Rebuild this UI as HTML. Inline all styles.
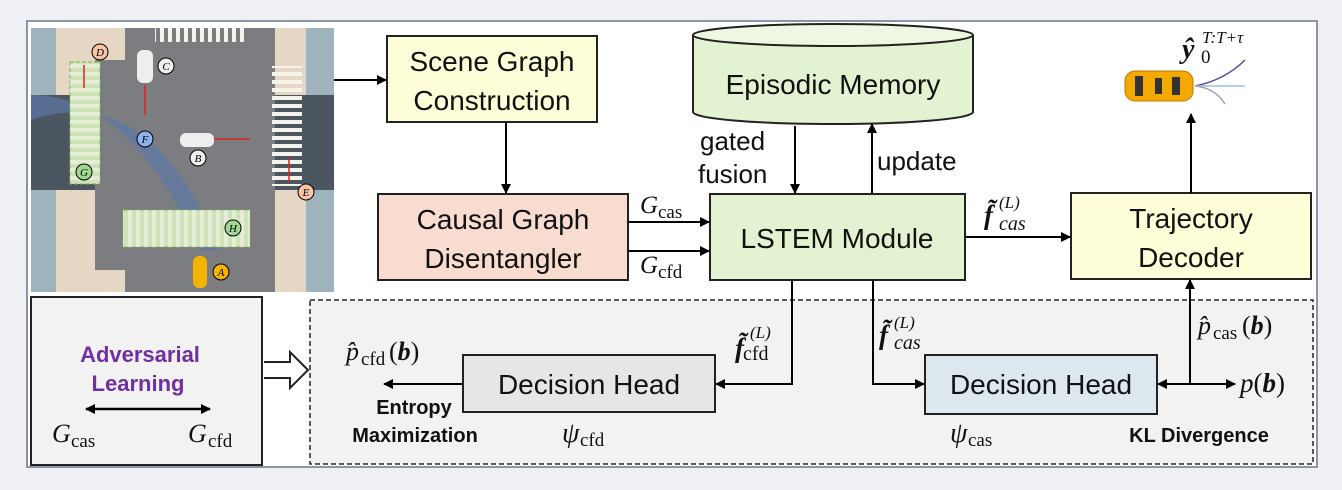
<!DOCTYPE html>
<html><head><meta charset="utf-8"><style>
body{margin:0;background:#eef0f3;}
svg{display:block;}
.t{font-family:"Liberation Sans",sans-serif;font-size:28px;fill:#111;text-anchor:middle;}
.m{font-family:"Liberation Serif",serif;fill:#111;}
</style></head><body>
<svg width="1342" height="490" viewBox="0 0 1342 490" xmlns="http://www.w3.org/2000/svg">
<defs>
<marker id="a" markerWidth="10" markerHeight="10" refX="9" refY="5" orient="auto" markerUnits="userSpaceOnUse"><path d="M0,0 L10,5 L0,10 z" fill="#000"/></marker>
<marker id="s" markerWidth="10" markerHeight="10" refX="1" refY="5" orient="auto" markerUnits="userSpaceOnUse"><path d="M10,0 L0,5 L10,10 z" fill="#000"/></marker>
<pattern id="hs" width="8" height="8" patternUnits="userSpaceOnUse"><rect width="8" height="4" fill="#f4f4ec"/></pattern>
<pattern id="vs" width="8" height="8" patternUnits="userSpaceOnUse"><rect width="4" height="8" fill="#f4f4ec"/></pattern>
</defs>
<rect x="0" y="0" width="1342" height="490" fill="#eef0f3"/>
<rect x="27" y="21" width="1290" height="446" fill="#fff" stroke="#8a94a3" stroke-width="2"/>
<!-- scene image -->
<g>
<rect x="31" y="28" width="303" height="264" fill="#e6d7c4"/>
<rect x="31" y="28" width="25" height="264" fill="#9fb3bd"/>
<rect x="306" y="28" width="28" height="264" fill="#9fb3bd"/>
<rect x="31" y="95" width="303" height="95" fill="#4c5660"/>
<rect x="125" y="28" width="150" height="264" fill="#7b7d80"/>
<rect x="95" y="60" width="180" height="210" fill="#7b7d80"/>
<rect x="155" y="28" width="90" height="14" fill="url(#vs)"/>
<rect x="272" y="66" width="30" height="120" fill="url(#hs)"/>
<path d="M31,95 Q130,95 200,250 L220,250 Q150,80 31,120 z" fill="#5d77a8" opacity="0.7"/>
<rect x="70" y="62" width="30" height="122" fill="#cfe3b8" stroke="#7bb04c" stroke-dasharray="4,2"/>
<rect x="70" y="62" width="30" height="122" fill="url(#hs)" opacity="0.6"/>
<rect x="123" y="210" width="127" height="37" fill="#cfe3b8" stroke="#7bb04c" stroke-dasharray="4,2"/>
<rect x="123" y="210" width="127" height="37" fill="url(#vs)" opacity="0.6"/>
<rect x="137" y="50" width="16" height="33" rx="6" fill="#eee"/>
<rect x="180" y="133" width="34" height="14" rx="6" fill="#eee"/>
<rect x="193" y="256" width="14" height="32" rx="6" fill="#f3b400"/>
<g stroke="#d22" stroke-width="1.5"><line x1="84" y1="65" x2="84" y2="88"/><line x1="145" y1="85" x2="145" y2="115"/><line x1="214" y1="139" x2="250" y2="139"/><line x1="289" y1="158" x2="289" y2="182"/></g>
<g font-family="Liberation Serif" font-style="italic" font-size="11" text-anchor="middle">
<circle cx="100" cy="52" r="8" fill="#f6c6a6" stroke="#000"/><text x="100" y="56">D</text>
<circle cx="166" cy="66" r="8" fill="#eee" stroke="#000"/><text x="166" y="70">C</text>
<circle cx="145" cy="139" r="8" fill="#8fb3f0" stroke="#000"/><text x="145" y="143">F</text>
<circle cx="198" cy="158" r="8" fill="#eee" stroke="#000"/><text x="198" y="162">B</text>
<circle cx="84" cy="172" r="8" fill="#9fd88f" stroke="#000"/><text x="84" y="176">G</text>
<circle cx="306" cy="192" r="8" fill="#f6c6a6" stroke="#000"/><text x="306" y="196">E</text>
<circle cx="233" cy="228" r="8" fill="#9fd88f" stroke="#000"/><text x="233" y="232">H</text>
<circle cx="221" cy="272" r="8" fill="#f3b400" stroke="#000"/><text x="221" y="276">A</text>
</g>
</g>
<!-- boxes -->
<rect x="387" y="36" width="210" height="86" fill="#fefed8" stroke="#222" stroke-width="2"/>
<text class="t" x="492" y="71">Scene Graph</text><text class="t" x="492" y="110">Construction</text>
<path d="M693,35 L693,112 A140,12 0 0 0 973,112 L973,35" fill="#e3f2d0" stroke="#222" stroke-width="2"/>
<ellipse cx="833" cy="35" rx="140" ry="11" fill="#eef7e2" stroke="#222" stroke-width="2"/>
<text class="t" x="833" y="94">Episodic Memory</text>
<rect x="378" y="194" width="250" height="86" fill="#f9dcd0" stroke="#222" stroke-width="2"/>
<text class="t" x="503" y="229">Causal Graph</text><text class="t" x="503" y="268">Disentangler</text>
<rect x="710" y="194" width="255" height="86" fill="#e3f2d0" stroke="#222" stroke-width="2"/>
<text class="t" x="837" y="248">LSTEM Module</text>
<rect x="1071" y="193" width="240" height="86" fill="#fefed8" stroke="#222" stroke-width="2"/>
<text class="t" x="1191" y="228">Trajectory</text><text class="t" x="1191" y="267">Decoder</text>
<!-- lower -->
<rect x="31" y="297" width="231" height="168" fill="#f2f2f2" stroke="#222" stroke-width="2"/>
<text x="140" y="362" font-family="Liberation Sans" font-weight="bold" font-size="22" fill="#7030a0" text-anchor="middle">Adversarial</text>
<text x="138" y="391" font-family="Liberation Sans" font-weight="bold" font-size="22" fill="#7030a0" text-anchor="middle">Learning</text>
<line x1="86" y1="409" x2="210" y2="409" stroke="#000" stroke-width="2.5" marker-end="url(#a)" marker-start="url(#s)"/>
<text class="m" x="52" y="442" font-size="26" font-style="italic">G</text><text class="m" x="71" y="447" font-size="19">cas</text>
<text class="m" x="188" y="442" font-size="26" font-style="italic">G</text><text class="m" x="208" y="447" font-size="19">cfd</text>
<path d="M264,362 L290,362 L290,352 L308,370 L290,388 L290,378 L264,378" fill="#fff" stroke="#222" stroke-width="2"/>
<rect x="310" y="300" width="1003" height="164" fill="#f2f2f2" stroke="#222" stroke-width="1.5" stroke-dasharray="5,3"/>
<rect x="463" y="355" width="252" height="57" fill="#e6e6e6" stroke="#222" stroke-width="2"/>
<text class="t" x="589" y="394">Decision Head</text>
<rect x="925" y="355" width="232" height="59" fill="#dce8ee" stroke="#222" stroke-width="2"/>
<text class="t" x="1041" y="394">Decision Head</text>
<!-- arrows -->
<g stroke="#000" stroke-width="2" fill="none">
<line x1="334" y1="80" x2="386" y2="80" marker-end="url(#a)"/>
<line x1="506" y1="122" x2="506" y2="193" marker-end="url(#a)"/>
<line x1="628" y1="222" x2="709" y2="222" marker-end="url(#a)"/>
<line x1="628" y1="251" x2="709" y2="251" marker-end="url(#a)"/>
<line x1="795" y1="126" x2="795" y2="193" marker-end="url(#a)"/>
<line x1="872" y1="194" x2="872" y2="124" marker-end="url(#a)"/>
<line x1="965" y1="237" x2="1070" y2="237" marker-end="url(#a)"/>
<line x1="1191" y1="193" x2="1191" y2="114" marker-end="url(#a)"/>
<polyline points="792,280 792,384 716,384" marker-end="url(#a)"/>
<line x1="463" y1="384" x2="384" y2="384" marker-end="url(#a)"/>
<polyline points="873,280 873,384 924,384" marker-end="url(#a)"/>
<line x1="1190" y1="384" x2="1158" y2="384" marker-end="url(#a)"/>
<line x1="1190" y1="384" x2="1235" y2="384" marker-end="url(#a)"/>
<line x1="1190" y1="384" x2="1190" y2="280" marker-end="url(#a)"/>
</g>
<!-- labels -->
<text x="700" y="150" font-family="Liberation Sans" font-size="26" fill="#111">gated</text>
<text x="698" y="183" font-family="Liberation Sans" font-size="26" fill="#111">fusion</text>
<text x="877" y="170" font-family="Liberation Sans" font-size="26" fill="#111">update</text>
<text class="m" x="640" y="213" font-size="25" font-style="italic">G</text><text class="m" x="658" y="218" font-size="19">cas</text>
<text class="m" x="640" y="273" font-size="25" font-style="italic">G</text><text class="m" x="658" y="278" font-size="19">cfd</text>
<text class="m" x="984" y="224" font-size="27" font-style="italic" font-weight="bold">f̃</text><text class="m" x="999" y="208" font-size="17" font-style="italic">(L)</text><text class="m" x="999" y="230" font-size="20" font-style="italic">cas</text>
<text class="m" x="879" y="344" font-size="27" font-style="italic" font-weight="bold">f̃</text><text class="m" x="894" y="328" font-size="17" font-style="italic">(L)</text><text class="m" x="894" y="349" font-size="20" font-style="italic">cas</text>
<text class="m" x="735" y="357" font-size="27" font-style="italic" font-weight="bold">f̃</text><text class="m" x="750" y="338" font-size="17" font-style="italic">(L)</text><text class="m" x="743" y="360" font-size="20">cfd</text>
<text class="m" x="346" y="360" font-size="26" font-style="italic">p̂</text><text class="m" x="361" y="365" font-size="19">cfd</text><text class="m" x="389" y="360" font-size="26">(<tspan font-weight="bold" font-style="italic">b</tspan>)</text>
<text class="m" x="1198" y="334" font-size="26" font-style="italic">p̂</text><text class="m" x="1213" y="339" font-size="19">cas</text><text class="m" x="1242" y="334" font-size="26">(<tspan font-weight="bold" font-style="italic">b</tspan>)</text>
<text class="m" x="1240" y="392" font-size="27"><tspan font-style="italic">p</tspan>(<tspan font-weight="bold" font-style="italic">b</tspan>)</text>
<text x="414" y="414" font-family="Liberation Sans" font-weight="bold" font-size="20" fill="#111" text-anchor="middle">Entropy</text>
<text x="415" y="442" font-family="Liberation Sans" font-weight="bold" font-size="20" fill="#111" text-anchor="middle">Maximization</text>
<text x="1199" y="442" font-family="Liberation Sans" font-weight="bold" font-size="20" fill="#111" text-anchor="middle">KL Divergence</text>
<text class="m" x="562" y="442" font-size="28" font-style="italic">ψ</text><text class="m" x="580" y="446" font-size="19">cfd</text>
<text class="m" x="950" y="442" font-size="28" font-style="italic">ψ</text><text class="m" x="968" y="446" font-size="19">cas</text>
<!-- car & prediction -->
<rect x="1125" y="71" width="68" height="30" rx="10" fill="#f3a900" stroke="#c07800"/>
<rect x="1135" y="76" width="8" height="20" fill="#333"/><rect x="1155" y="78" width="7" height="16" fill="#333"/><rect x="1172" y="77" width="8" height="18" fill="#333"/>
<path d="M1195,86 Q1225,80 1245,60" stroke="#5a4d9a" stroke-width="1.5" fill="none"/>
<path d="M1195,86 L1245,86" stroke="#8fc7d6" stroke-width="1.5" fill="none"/>
<path d="M1195,86 Q1215,88 1225,104" stroke="#b59ca8" stroke-width="1.5" fill="none"/>
<text class="m" x="1182" y="58" font-size="28" font-style="italic" font-weight="bold">ŷ</text><text class="m" x="1201" y="63" font-size="19">0</text><text class="m" x="1202" y="43" font-size="17" font-style="italic">T:T+τ</text>
</svg>
</body></html>
